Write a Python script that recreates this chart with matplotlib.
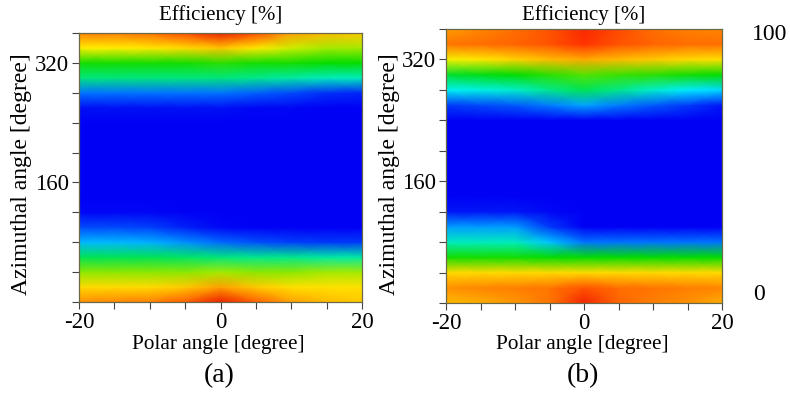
import numpy as np
import matplotlib
matplotlib.use("Agg")
import matplotlib.pyplot as plt
from matplotlib.colors import LinearSegmentedColormap

plt.rcParams["font.family"] = ["Liberation Serif", "DejaVu Serif"]

# grid: polar angle (columns) and azimuthal angle (rows)
polar = [-20, -15, -10, -5, 0, 5, 10, 15, 20]
azimuth = list(range(0, 361, 20))

# efficiency [%] for case (a), one row per azimuth value
eff_a = [
    [76, 77, 78, 82, 92, 82, 74, 70, 68],   # 0
    [66, 66, 66, 68, 74, 68, 65, 65, 65],   # 20
    [57, 57, 57, 57, 58, 57, 57, 58, 58],   # 40
    [46, 46, 46, 45, 44, 43, 43, 42, 42],   # 60
    [32, 32, 31, 28, 24, 21, 19, 18, 18],   # 80
    [20, 20, 19, 15, 12, 11, 11, 11, 11],   # 100
    [12, 12, 12, 11, 11, 11, 11, 11, 11],   # 120
    [11, 11, 11, 11, 11, 11, 11, 11, 11],   # 140
    [11, 11, 11, 11, 11, 11, 11, 11, 11],   # 160
    [11, 11, 11, 11, 11, 11, 11, 11, 11],   # 180
    [11, 11, 11, 11, 11, 11, 11, 11, 11],   # 200
    [11, 11, 11, 11, 11, 11, 11, 11, 11],   # 220
    [11, 11, 11, 11, 11, 11, 11, 11, 11],   # 240
    [13, 13, 13, 13, 13, 12, 12, 11, 11],   # 260
    [25, 25, 25, 25, 25, 23, 20, 17, 16],   # 280
    [44, 44, 44, 44, 44, 43, 42, 41, 41],   # 300
    [51, 51, 51, 51, 52, 51, 51, 50, 50],   # 320
    [63, 63, 64, 66, 69, 64, 60, 58, 58],   # 340
    [78, 78, 80, 84, 92, 84, 74, 70, 68],   # 360
]

# efficiency [%] for case (b)
eff_b = [
    [70, 72, 75, 79, 90, 81, 78, 76, 72],   # 0
    [76, 77, 78, 79, 83, 80, 79, 78, 77],   # 20
    [66, 66, 66, 66, 66, 66, 66, 66, 66],   # 40
    [51, 51, 51, 50, 50, 50, 50, 50, 50],   # 60
    [41, 41, 41, 33, 25, 25, 25, 25, 25],   # 80
    [29, 29, 29, 18, 11, 11, 11, 11, 11],   # 100
    [14, 14, 14, 12, 11, 11, 11, 11, 11],   # 120
    [11, 11, 11, 11, 11, 11, 11, 11, 11],   # 140
    [11, 11, 11, 11, 11, 11, 11, 11, 11],   # 160
    [11, 11, 11, 11, 11, 11, 11, 11, 11],   # 180
    [11, 11, 11, 11, 11, 11, 11, 11, 11],   # 200
    [11, 11, 11, 11, 11, 11, 11, 11, 11],   # 220
    [11, 11, 11, 11, 11, 11, 11, 11, 11],   # 240
    [18, 20, 22, 26, 30, 26, 22, 18, 14],   # 260
    [38, 39, 40, 43, 46, 43, 40, 37, 35],   # 280
    [48, 49, 50, 52, 54, 53, 52, 51, 50],   # 300
    [62, 64, 67, 70, 73, 70, 68, 66, 65],   # 320
    [79, 80, 81, 83, 87, 83, 81, 80, 80],   # 340
    [74, 77, 80, 83, 89, 84, 80, 78, 77],   # 360
]

panel_tags = ["(a)", "(b)"]
scale_labels = ["100", "0"]

# saturated rainbow: blue - cyan - green - yellow - orange - red
rainbow = LinearSegmentedColormap.from_list("rainbow_eff", [
    (0.00, (0.00, 0.00, 0.80)),
    (0.11, (0.00, 0.00, 0.96)),
    (0.25, (0.00, 0.45, 1.00)),
    (0.375, (0.00, 0.95, 1.00)),
    (0.50, (0.00, 0.86, 0.00)),
    (0.625, (1.00, 0.95, 0.00)),
    (0.75, (1.00, 0.60, 0.00)),
    (0.875, (1.00, 0.18, 0.00)),
    (1.00, (0.80, 0.00, 0.00)),
])

W, H = 790, 393
fig = plt.figure(figsize=(W / 100, H / 100), dpi=100)


def box(x0, y0, x1, y1):
    # pixel box (top-left origin) -> figure fraction rect
    return [x0 / W, 1 - y1 / H, (x1 - x0) / W, (y1 - y0) / H]


def ftext(x, y, s, size=15, **kw):
    fig.text(x / W, 1 - y / H, s, ha="center", va="center", fontsize=size, **kw)


boxes = [(79, 33, 362, 302), (446, 29, 722, 303)]
P, A = np.meshgrid(polar, azimuth)

for (x0, y0, x1, y1), data, tag in zip(boxes, [eff_a, eff_b], panel_tags):
    ax = fig.add_axes(box(x0, y0, x1, y1))
    ax.pcolormesh(P, A, np.array(data, dtype=float), cmap=rainbow,
                  vmin=0, vmax=100, shading="gouraud")
    ax.set_xlim(-20, 20)
    ax.set_ylim(0, 360)
    ax.set_xticks(range(-20, 21, 5))
    ax.set_xticklabels(["-20", "", "", "", "0", "", "", "", "20"])
    ax.set_yticks(range(0, 361, 40))
    ax.set_yticklabels(["" if v not in (160, 320) else str(v)
                        for v in range(0, 361, 40)])
    ax.tick_params(labelsize=16.5, length=5, width=0.8, color="#444", pad=2)
    for sp in ax.spines.values():
        sp.set_color("#6b6848")
        sp.set_linewidth(0.9)

    cx = (x0 + x1) / 2
    ftext(cx, 15, "Efficiency [%]")
    ftext(cx - 2, 345, "Polar angle [degree]", size=15.3)
    ftext(cx - 1, 376, tag, size=20)
    ftext(x0 - 57, 174, "Azimuthal angle [degree]", size=17, rotation=90)

# end values of the colour scale
ftext(770, 35, scale_labels[0], size=17)
ftext(759, 294, scale_labels[1], size=17)

fig.savefig("out.png", dpi=100)
